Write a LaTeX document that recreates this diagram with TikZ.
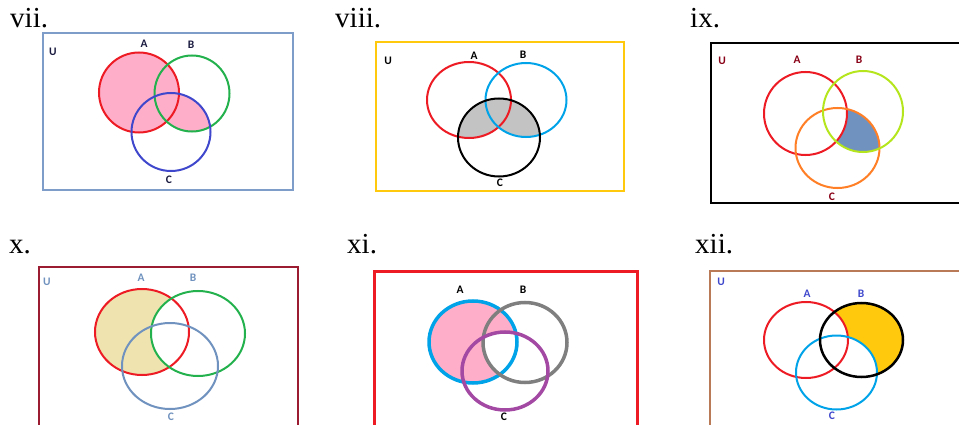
\documentclass[tikz,border=0pt]{standalone}
\usepackage{fontspec}
\setmainfont{Liberation Serif}
\newfontfamily\setfont{Carlito}
\usetikzlibrary{positioning}
\definecolor{pRed}{HTML}{ED1C24}
\definecolor{pGreen}{HTML}{22B14C}
\definecolor{pBlue}{HTML}{3F48CC}
\definecolor{pSky}{HTML}{00A2E8}
\definecolor{pLime}{HTML}{B5E61D}
\definecolor{pOrange}{HTML}{FF7F27}
\definecolor{pSteel}{HTML}{7092BE}
\definecolor{pGold}{HTML}{FFC90E}
\definecolor{pPink}{HTML}{FFAEC9}
\definecolor{pGray}{HTML}{C3C3C3}
\definecolor{pTan}{HTML}{EFE4B0}
\definecolor{pPurple}{HTML}{A349A4}
\definecolor{pDark}{HTML}{7F7F7F}
\definecolor{pMaroon}{HTML}{880015}
\definecolor{pWine}{HTML}{9B1B30}
\definecolor{pBrown}{HTML}{B97A57}
\definecolor{pFrame}{HTML}{7F9DC9}
\definecolor{pNavy}{HTML}{1A1A40}
\tikzset{
  numlbl/.style={anchor=base west,inner sep=0pt,font=\fontsize{29}{30}\selectfont},
  setlbl/.style={inner sep=0pt,font=\setfont\bfseries\fontsize{11.5}{13}\selectfont},
  ring/.style={line width=2pt},
}
\begin{document}
\begin{tikzpicture}[x=1pt,y=-1pt]
  \useasboundingbox (0,0) rectangle (959,425);
  \clip (0,0) rectangle (959,425);
  % vii
  \node[numlbl] (n7) at (10,28) {vii.};
  \fill[pPink] (139,92.5) ellipse [x radius=40pt,y radius=40pt];
  \begin{scope}
    \clip (192,93.5) ellipse [x radius=37.5pt,y radius=38pt];
    \fill[pPink] (171,132) ellipse [x radius=39.5pt,y radius=39pt];
  \end{scope}
  \draw[pFrame,line width=1.5pt] (43,33) rectangle (293,190);
  \draw[ring,pRed] (139,92.5) ellipse [x radius=40pt,y radius=40pt];
  \draw[ring,pGreen] (192,93.5) ellipse [x radius=37.5pt,y radius=38pt];
  \draw[ring,pBlue] (171,132) ellipse [x radius=39.5pt,y radius=39pt];
  \node[setlbl,pNavy] (u7) at (53,52) {U};
  \node[setlbl,pNavy] (a7) at (144,44) {A};
  \node[setlbl,pNavy] (b7) at (191,45) {B};
  \node[setlbl,pNavy] (c7) at (169,180) {C};
  % viii
  \node[numlbl] (n8) at (335,28) {viii.};
  \begin{scope}
    \clip (499,137.5) ellipse [x radius=41pt,y radius=39pt];
    \fill[pGray] (469,100) ellipse [x radius=42pt,y radius=38pt];
    \fill[pGray] (526,100) ellipse [x radius=40.5pt,y radius=37pt];
  \end{scope}
  \draw[pGold,line width=2pt] (376,42) rectangle (624,191);
  \draw[ring,pRed] (469,100) ellipse [x radius=42pt,y radius=38pt];
  \draw[ring,pSky] (526,100) ellipse [x radius=40.5pt,y radius=37pt];
  \draw[ring,black] (499,137.5) ellipse [x radius=41pt,y radius=39pt];
  \node[setlbl] (u8) at (388,61) {U};
  \node[setlbl] (a8) at (474,56) {A};
  \node[setlbl] (b8) at (523,55) {B};
  \node[setlbl] (c8) at (500,183) {C};
  % ix
  \node[numlbl] (n9) at (690,28) {ix.};
  \begin{scope}
    \clip (863,111.5) ellipse [x radius=40pt,y radius=40.5pt];
    \clip (837.5,148) ellipse [x radius=42pt,y radius=40pt];
    \fill[pSteel,even odd rule] (700,40) rectangle (959,210)
      (805.5,113.5) ellipse [x radius=41.5pt,y radius=41.5pt];
  \end{scope}
  \draw[black,line width=2pt] (711,43) rectangle (975,203);
  \draw[ring,pRed] (805.5,113.5) ellipse [x radius=41.5pt,y radius=41.5pt];
  \draw[ring,pOrange] (837.5,148) ellipse [x radius=42pt,y radius=40pt];
  \draw[ring,pLime] (863,111.5) ellipse [x radius=40pt,y radius=40.5pt];
  \node[setlbl,pMaroon] (u9) at (722,61) {U};
  \node[setlbl,pMaroon] (a9) at (797,60) {A};
  \node[setlbl,pMaroon] (b9) at (859,60) {B};
  \node[setlbl,pMaroon] (c9) at (832,197) {C};
  % x
  \node[numlbl] (n10) at (9,253) {x.};
  \begin{scope}
    \clip (142,332) ellipse [x radius=47pt,y radius=43pt];
    \fill[pTan,even odd rule] (30,260) rectangle (310,425)
      (198,333.5) ellipse [x radius=47pt,y radius=42.5pt];
  \end{scope}
  \draw[pWine,line width=2pt] (39,267) rectangle (298,440);
  \draw[ring,pRed] (142,332) ellipse [x radius=47pt,y radius=43pt];
  \draw[ring,pGreen] (198,333.5) ellipse [x radius=47pt,y radius=42.5pt];
  \draw[ring,pSteel] (170,366) ellipse [x radius=48pt,y radius=43pt];
  \node[setlbl,pSteel] (u10) at (47,282) {U};
  \node[setlbl,pSteel] (a10) at (141,278) {A};
  \node[setlbl,pSteel] (b10) at (193,278) {B};
  \node[setlbl,pSteel] (c10) at (171,417) {C};
  % xi
  \node[numlbl] (n11) at (347,253) {xi.};
  \begin{scope}
    \clip (473,342) ellipse [x radius=44pt,y radius=41pt];
    \fill[pPink,even odd rule] (370,260) rectangle (640,425)
      (525,342.5) ellipse [x radius=42pt,y radius=40pt];
    \fill[pPink,even odd rule] (370,260) rectangle (640,425)
      (505,371) ellipse [x radius=43pt,y radius=39pt];
  \end{scope}
  \draw[pRed,line width=3pt] (374,271) rectangle (637,440);
  \draw[pSky,line width=3.5pt] (473,342) ellipse [x radius=44pt,y radius=41pt];
  \draw[pDark,line width=3.5pt] (525,342.5) ellipse [x radius=42pt,y radius=40pt];
  \draw[pPurple,line width=3.5pt] (505,371) ellipse [x radius=43pt,y radius=39pt];
  \node[setlbl] (a11) at (460,290) {A};
  \node[setlbl] (b11) at (523,290) {B};
  \node[setlbl] (c11) at (504,417) {C};
  % xii
  \node[numlbl] (n12) at (695,253) {xii.};
  \begin{scope}
    \clip (861.5,340) ellipse [x radius=41.5pt,y radius=37pt];
    \fill[pGold] (700,260) rectangle (959,425);
    \fill[white] (806,340) ellipse [x radius=42pt,y radius=38pt];
    \fill[white] (836.5,372.5) ellipse [x radius=40.5pt,y radius=37pt];
  \end{scope}
  \draw[pBrown,line width=2pt] (710,271) rectangle (975,440);
  \draw[ring,pRed] (806,340) ellipse [x radius=42pt,y radius=38pt];
  \draw[ring,pSky] (836.5,372.5) ellipse [x radius=40.5pt,y radius=37pt];
  \draw[black,line width=2.5pt] (861.5,340) ellipse [x radius=41.5pt,y radius=37pt];
  \node[setlbl,pBlue] (u12) at (721,282) {U};
  \node[setlbl,pBlue] (a12) at (807,294) {A};
  \node[setlbl,pBlue] (b12) at (861,294) {B};
  \node[setlbl,pBlue] (c12) at (832,416) {C};
\end{tikzpicture}
\end{document}
